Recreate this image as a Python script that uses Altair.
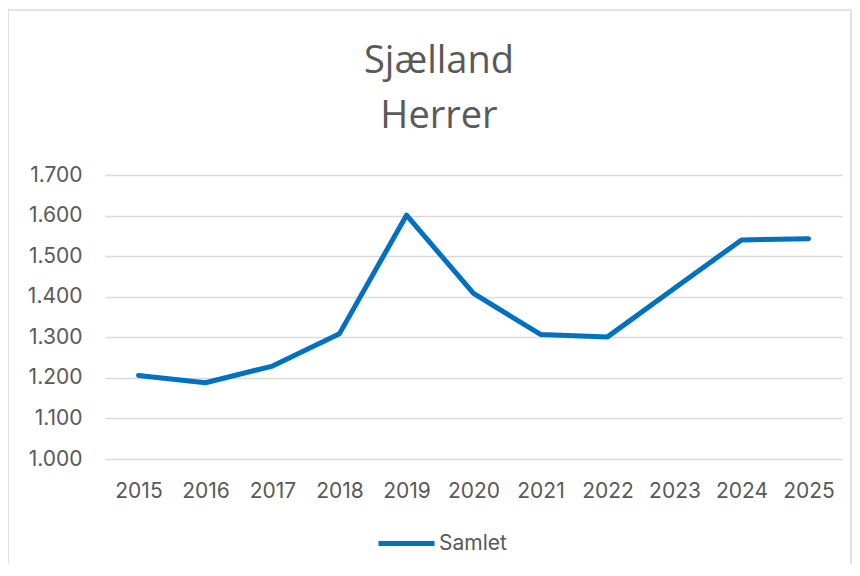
import altair as alt
import pandas as pd

years = ["2015", "2016", "2017", "2018", "2019", "2020", "2021", "2022", "2023", "2024", "2025"]
values = [1206, 1188, 1229, 1309, 1601, 1408, 1307, 1301, 1421, 1540, 1543]
series_name = "Samlet"
y_ticks = [1000, 1100, 1200, 1300, 1400, 1500, 1600, 1700]
title_lines = ["Sjælland", "Herrer"]

df = pd.DataFrame({"year": years, "value": values, "series": [series_name] * len(years)})

GREY = "#595959"
FONT = "Inter"

line = alt.Chart(df).mark_line(strokeWidth=5, strokeCap="round", strokeJoin="round").encode(
    x=alt.X(
        "year:O",
        sort=years,
        scale=alt.Scale(type="point", padding=0.5),
        axis=alt.Axis(title=None, labelAngle=0, ticks=False, domain=True, domainColor="#d9d9d9",
                      labelPadding=21, labelFontSize=21, labelColor=GREY, labelFont=FONT, grid=False),
    ),
    y=alt.Y(
        "value:Q",
        scale=alt.Scale(domain=[1000, 1700], zero=False, nice=False),
        axis=alt.Axis(title=None, values=y_ticks, ticks=False, domain=False, grid=True,
                      gridColor="#d9d9d9", gridWidth=1.5,
                      labelExpr="replace(format(datum.value, ','), ',', '.')",
                      labelPadding=23, labelFontSize=21, labelColor=GREY, labelFont=FONT),
    ),
    color=alt.Color(
        "series:N",
        scale=alt.Scale(range=["#0070C0"]),
        legend=alt.Legend(title=None, orient="none", legendX=271, legendY=338,
                          symbolType="stroke", symbolSize=3136, symbolStrokeWidth=5,
                          labelFontSize=21, labelColor=GREY, labelFont=FONT, labelOffset=2),
    ),
)

border_df = pd.DataFrame({"k": [0]})
frame_color = "#d9d9d9"
top_b = alt.Chart(border_df).mark_rule(color=frame_color, strokeWidth=1.5).encode(
    x=alt.value(-97), x2=alt.value(746), y=alt.value(-165))
left_b = alt.Chart(border_df).mark_rule(color=frame_color, strokeWidth=1.5).encode(
    x=alt.value(-97), y=alt.value(-165), y2=alt.value(420))
right_b = alt.Chart(border_df).mark_rule(color=frame_color, strokeWidth=1.5).encode(
    x=alt.value(746), y=alt.value(-165), y2=alt.value(420))

t1 = alt.Chart(pd.DataFrame({"t": [title_lines[0]]})).mark_text(
    fontSize=38, font="Open Sans", color=GREY, align="center", baseline="alphabetic"
).encode(text="t:N", x=alt.value(334), y=alt.value(-102))
t2 = alt.Chart(pd.DataFrame({"t": [title_lines[1]]})).mark_text(
    fontSize=38, font="Open Sans", color=GREY, align="center", baseline="alphabetic"
).encode(text="t:N", x=alt.value(334), y=alt.value(-47))

chart = alt.layer(top_b, left_b, right_b, t1, t2, line).properties(
    width=737,
    height=284,
    autosize="none",
    padding={"left": 97, "top": 167, "right": 10, "bottom": 105},
).configure_view(stroke=None)

chart.save("out.html", embed_options={"renderer": "svg", "actions": False})
